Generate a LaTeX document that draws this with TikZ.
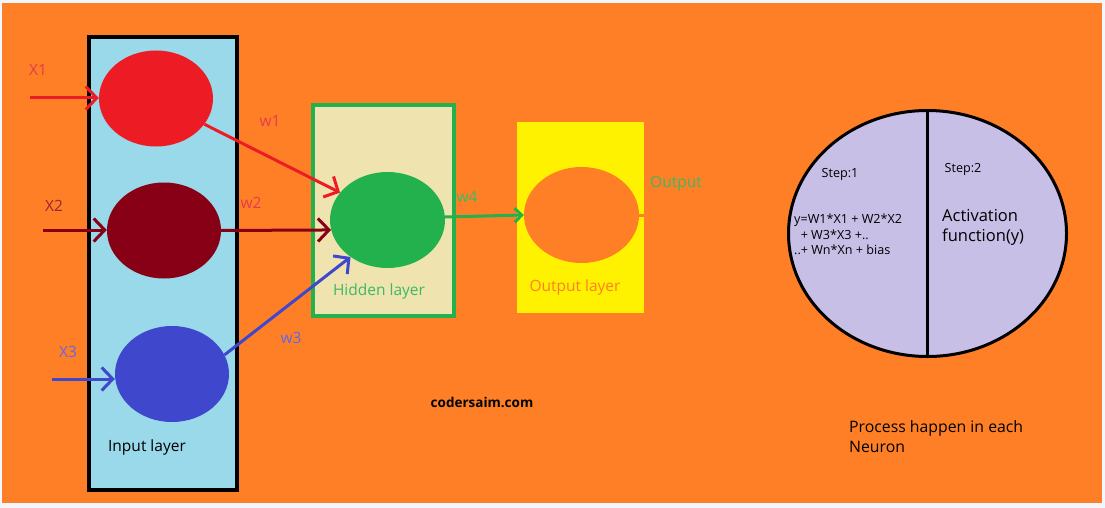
\documentclass[tikz,border=0pt]{standalone}
\usepackage{fontspec}
\setmainfont{Open Sans}
\usetikzlibrary{shapes.geometric,arrows.meta}
\definecolor{bgl}{RGB}{243,246,250}
\definecolor{porange}{RGB}{255,127,39}
\definecolor{pred}{RGB}{237,28,36}
\definecolor{pdred}{RGB}{136,0,21}
\definecolor{pblue}{RGB}{63,72,204}
\definecolor{pgreen}{RGB}{34,177,76}
\definecolor{pyellow}{RGB}{255,242,0}
\definecolor{pturq}{RGB}{153,217,234}
\definecolor{ptan}{RGB}{239,228,176}
\definecolor{plav}{RGB}{200,191,231}
\definecolor{lred}{RGB}{228,60,75}
\definecolor{lblue}{RGB}{95,105,225}
\definecolor{tgreen}{RGB}{60,185,100}
\begin{document}
\begin{tikzpicture}[x=1pt,y=-1pt,
  neuron/.style={ellipse,minimum width=114pt,minimum height=96pt,inner sep=0pt},
  conn/.style={line width=3pt,-{Straight Barb[length=11pt,width=23pt,line width=3pt]}},
  lbl/.style={inner sep=0pt,font=\fontsize{15.5}{18}\selectfont},
  small/.style={inner sep=0pt,font=\fontsize{12.6}{15.6}\selectfont}]
\useasboundingbox (0,0) rectangle (1105,508);
\fill[bgl] (0,0) rectangle (1105,508);
\fill[porange] (2,3) rectangle (1102,503);
% input layer
\draw[line width=4pt,fill=pturq] (89,37) rectangle (236.5,490);
% hidden layer
\draw[line width=4pt,draw=pgreen,fill=ptan] (313,105.5) rectangle (453.5,316);
% output layer
\fill[pyellow] (517,122) rectangle (644,313);
% neurons
\node[neuron,fill=pred] (n1) at (156,98.5) {};
\node[neuron,fill=pdred] (n2) at (164,230.5) {};
\node[neuron,fill=pblue] (n3) at (172,374) {};
\node[neuron,minimum width=115pt,fill=pgreen] (h) at (387.5,220) {};
\node[neuron,minimum width=115pt,fill=porange] (o) at (581.5,215) {};
\coordinate (oedge) at (644,215);
\draw[porange,line width=3pt] (o.east) -- (oedge);
% inputs
\coordinate (x1s) at (30,98);
\coordinate (x2s) at (43,230);
\coordinate (x3s) at (52,379);
\draw[conn,pred] (x1s) -- (x1s -| n1.west);
\draw[conn,pdred] (x2s) -- (x2s -| n2.west);
\draw[conn,pblue] (x3s) -- (x3s -| n3.west);
\node[lbl,text=lred] (lx1) at (38,70) {X1};
\node[lbl,text=pdred!85!white] (lx2) at (54,206) {X2};
\node[lbl,text=lblue] (lx3) at (68,352) {X3};
% weights
\draw[conn,pred] (n1.-28) -- (h.150);
\draw[conn,pdred] (n2.east) -- (h.190);
\draw[conn,pblue] (n3.20) -- (h.225);
\draw[line width=3pt,pgreen,-{Straight Barb[length=7pt,width=14pt,line width=3pt]}] (h.3) -- (o.west);
\node[lbl,text=lred] (w1) at (270,121) {w1};
\node[lbl,text=lred] (w2) at (251,203) {w2};
\node[lbl,text=lblue] (w3) at (291,338) {w3};
\node[lbl,text=tgreen] (w4) at (467,197) {w4};
% layer labels
\node[lbl,text=black] (il) at (147,447) {Input layer};
\node[lbl,text=tgreen] (hl) at (379,291) {Hidden layer};
\node[lbl,text=porange] (ol) at (575,287) {Output layer};
\node[lbl,text=tgreen] (out) at (676,184) {Output};
% process neuron
\node[ellipse,draw=black,line width=3pt,fill=plav,minimum width=278pt,minimum height=246pt,inner sep=0pt] (pn) at (927.5,233.5) {};
\draw[line width=3pt] (pn.north) -- (pn.south);
\node[small] (s1) at (840,174) {Step:1};
\node[small] (s2) at (963,169) {Step:2};
\node[small,anchor=west,align=left] (eq) at (794,234.5) {y=W1*X1 + W2*X2\\\ \ + W3*X3 +..\\..+ Wn*Xn + bias};
\node[inner sep=0pt,anchor=west,align=left,font=\fontsize{16.5}{20}\selectfont] (act) at (942,227.5) {Activation\\function(y)};
\node[inner sep=0pt,font=\bfseries\fontsize{13.5}{16}\selectfont] (cs) at (482,402) {codersaim.com};
\node[inner sep=0pt,anchor=west,align=left,font=\fontsize{15.8}{20}\selectfont] (proc) at (849,437) {Process happen in each\\Neuron};
\end{tikzpicture}
\end{document}
